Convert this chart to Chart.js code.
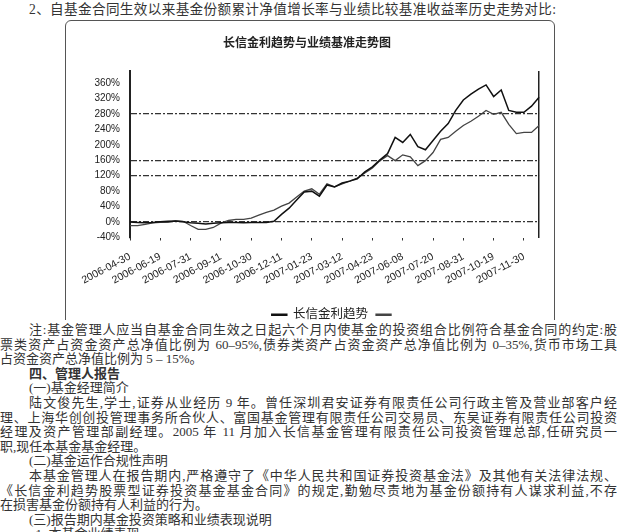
<!DOCTYPE html>
<html>
<head>
<meta charset="utf-8">
<script src="https://cdn.jsdelivr.net/npm/chart.js@4.4.1/dist/chart.umd.min.js"></script>
<style>
  html, body { margin: 0; padding: 0; background: #fff; }
  body { width: 617px; height: 532px; overflow: hidden; position: relative;
         font-family: 'Liberation Serif', 'Noto Sans CJK SC', serif; color: #333; }
  .head { position: absolute; left: 29px; top: 2px; width: 527px; font-size: 13.6px; line-height: 16px;
          white-space: nowrap; text-align: justify; text-align-last: justify; }
  .frame { position: absolute; left: 65px; top: 20px; width: 490px; height: 300px; overflow: hidden; }
  .box { position: absolute; left: 0; top: 0; width: 490px; height: 340px; box-sizing: border-box;
         border: 1.5px solid #555; border-radius: 6px; }
  #chart { position: absolute; left: 0; top: 0; }
  .text { position: absolute; left: 0; top: 323px; width: 617px; font-size: 13px; line-height: 14.6px; }
  .text div { white-space: nowrap; }
  .text .full { text-align: justify; text-align-last: justify; }
  .text .ind { padding-left: 29px; }
  .text b { font-weight: bold; }
</style>
</head>
<body>
<div class="head">2、自基金合同生效以来基金份额累计净值增长率与业绩比较基准收益率历史走势对比:</div>
<div class="frame">
  <div class="box"></div>
  <canvas id="chart" width="490" height="311"></canvas>
</div>
<div class="text">
  <div class="full ind">注:基金管理人应当自基金合同生效之日起六个月内使基金的投资组合比例符合基金合同的约定:股</div>
  <div class="full">票类资产占资金资产总净值比例为 60–95%,债券类资产占资金资产总净值比例为 0–35%,货币市场工具</div>
  <div>占资金资产总净值比例为 5 – 15%。</div>
  <div class="ind"><b>四、管理人报告</b></div>
  <div class="ind">(一)基金经理简介</div>
  <div class="full ind">陆文俊先生,学士,证券从业经历 9 年。曾任深圳君安证券有限责任公司行政主管及营业部客户经</div>
  <div class="full">理、上海华创创投管理事务所合伙人、富国基金管理有限责任公司交易员、东吴证券有限责任公司投资</div>
  <div class="full">经理及资产管理部副经理。2005 年 11 月加入长信基金管理有限责任公司投资管理总部,任研究员一</div>
  <div>职,现任本基金基金经理。</div>
  <div class="ind">(二)基金运作合规性声明</div>
  <div class="full ind">本基金管理人在报告期内,严格遵守了《中华人民共和国证券投资基金法》及其他有关法律法规、</div>
  <div class="full">《长信金利趋势股票型证券投资基金基金合同》的规定,勤勉尽责地为基金份额持有人谋求利益,不存</div>
  <div>在损害基金份额持有人利益的行为。</div>
  <div class="ind">(三)报告期内基金投资策略和业绩表现说明</div>
  <div class="ind">&nbsp;&nbsp;1. 本基金业绩表现</div>
</div>
<script>
// tick dates along the x axis (one every 4 points)
const tickLabels = ['2006-04-30', '2006-06-19', '2006-07-31', '2006-09-11', '2006-10-30', '2006-12-11',
  '2007-01-23', '2007-03-12', '2007-04-23', '2007-06-08', '2007-07-20', '2007-08-31', '2007-10-19', '2007-11-30'];
const pointsPerTick = 4;

// cumulative growth, %
const fundValues = [0, -1, -2, -1, 0.5, 2, 3, 0.5, -2, -3, -5, -3, -2, -1, -1, -2, -1, -1, -1, 2,
  20, 36, 57, 78, 80, 67, 96, 91, 101, 106, 112, 130, 143, 161, 177, 219, 206, 227, 195, 187,
  211, 235, 255, 289, 316, 331, 344, 355, 325, 342, 289, 284, 284, 300, 323];
const benchValues = [-9, -9, -6, -2, -1, -1, 3, 2, -9, -19, -19, -14, -3, 4, 7, 7, 10, 18, 25, 31,
  41, 49, 65, 80, 86, 72, 99, 91, 99, 106, 114, 127, 140, 159, 172, 159, 174, 169, 146, 159,
  180, 214, 219, 235, 250, 261, 274, 289, 279, 284, 253, 229, 232, 232, 250];

const yTickValues = [-40, 0, 40, 80, 120, 160, 200, 240, 280, 320, 360];
const yGridValues = [0, 120, 160, 280];

const FONT = "'Liberation Sans', 'Noto Sans CJK SC', sans-serif";

document.addEventListener('DOMContentLoaded', function() {
  if (typeof Chart === 'undefined') {
    console.error('Chart.js is not loaded');
    return;
  }

  const labels = fundValues.map((v, i) => i % pointsPerTick === 0 ? (tickLabels[i / pointsPerTick] || '') : '');

  new Chart(document.getElementById('chart'), {
    type: 'line',
    data: {
      labels: labels,
      datasets: [{
        label: '长信金利趋势',
        data: fundValues,
        borderColor: '#111',
        backgroundColor: '#111',
        borderWidth: 1.5,
        pointRadius: 0,
        tension: 0
      }, {
        label: '业绩比较基准',
        data: benchValues,
        borderColor: '#444',
        backgroundColor: '#444',
        borderWidth: 1.3,
        pointRadius: 0,
        tension: 0
      }]
    },
    options: {
      responsive: false,
      animation: false,
      layout: { padding: { left: 0, right: 6, top: 0, bottom: 0 } },
      plugins: {
        title: {
          display: true,
          text: '长信金利趋势与业绩基准走势图',
          color: '#222',
          font: { family: FONT, size: 12, weight: 'bold' },
          padding: { top: 16, bottom: 21 }
        },
        legend: {
          position: 'bottom',
          fullSize: false,
          labels: {
            boxWidth: 15,
            boxHeight: 1,
            padding: 8,
            color: '#222',
            font: { family: FONT, size: 12.5 },
            // only the first entry's text shows in the scan
            generateLabels: function(chart) {
              return Chart.defaults.plugins.legend.labels.generateLabels(chart)
                .map((item, i) => Object.assign(item, { text: i === 0 ? item.text : '' }));
            }
          }
        },
        tooltip: { enabled: false }
      },
      scales: {
        x: {
          border: { display: false },
          grid: {
            drawOnChartArea: false,
            tickLength: 3,
            tickColor: c => labels[c.index] ? '#333' : 'transparent'
          },
          ticks: {
            autoSkip: false,
            minRotation: 28,
            maxRotation: 28,
            padding: 10,
            color: '#222',
            font: { family: FONT, size: 10.5 }
          },
          afterFit: s => { s.height = 63; }
        },
        y: {
          min: -40,
          max: 390,
          afterBuildTicks: s => { s.ticks = yTickValues.map(v => ({ value: v })); },
          ticks: {
            padding: 10,
            color: '#222',
            font: { family: FONT, size: 10 },
            callback: v => v + '%'
          },
          grid: {
            drawTicks: false,
            lineWidth: 1.3,
            color: c => (c.tick && yGridValues.includes(c.tick.value)) ? '#333' : 'transparent'
          },
          border: { color: '#222', width: 2, dash: [6, 2, 2, 2] },
          afterFit: s => { s.width = 65; }
        },
        y2: {
          position: 'right',
          min: -40,
          max: 390,
          ticks: { display: false },
          grid: { display: false },
          border: { color: '#222', width: 1.5 },
          afterFit: s => { s.width = 0; }
        }
      }
    }
  });
});
</script>
</body>
</html>
